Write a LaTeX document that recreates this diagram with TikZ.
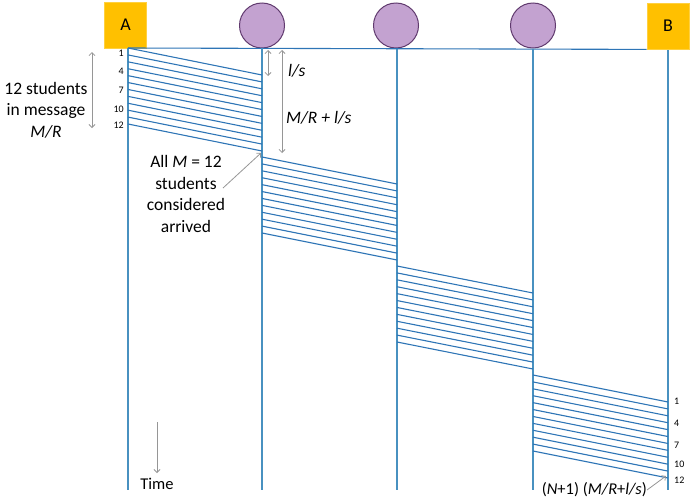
\documentclass[tikz,border=0pt]{standalone}
\usepackage{fontspec}
\setmainfont{Carlito}
\usetikzlibrary{arrows.meta,calc}
\definecolor{lineblue}{RGB}{46,117,182}
\definecolor{vblue}{RGB}{72,145,192}
\definecolor{boxorange}{RGB}{255,192,0}
\definecolor{circfill}{RGB}{195,162,208}
\definecolor{circdraw}{RGB}{96,58,110}
\definecolor{arrgray}{RGB}{150,150,150}
\tikzset{
  endbox/.style={draw=boxorange!75!white, fill=boxorange, line width=0.8pt, minimum width=42pt, minimum height=46pt, inner sep=0pt, font=\fontsize{18}{20}\selectfont},
  relay/.style={circle, draw=circdraw, line width=1pt, fill=circfill, minimum size=45pt, inner sep=0pt},
  timeline/.style={draw=vblue, line width=1.6pt},
  pkt/.style={draw=lineblue, line width=1.1pt},
  garrow/.style={draw=arrgray, line width=0.8pt, -{Straight Barb[length=3pt,width=6pt]}},
  gdarrow/.style={draw=arrgray, line width=0.8pt, {Straight Barb[length=3pt,width=6pt]}-{Straight Barb[length=3pt,width=6pt]}},
  lbl/.style={font=\fontsize{17.5}{21.5}\selectfont, align=center, inner sep=0pt},
  slbl/.style={font=\fontsize{16.5}{20}\selectfont, align=center, inner sep=0pt},
  num/.style={font=\fontsize{10}{11}\selectfont, inner sep=0pt},
}
\begin{document}
\begin{tikzpicture}[x=1pt,y=-1pt]
\useasboundingbox (0,0) rectangle (692,501);
% end nodes and relays
\node[endbox] (A) at (125.5,25) {A};
\node[endbox] (B) at (668,26) {B};
\node[relay] (C1) at (262,25.5) {};
\node[relay] (C2) at (396,25.5) {};
\node[relay] (C3) at (533,25.5) {};
% time lines
\coordinate (tA) at (128,48);  \coordinate (bA) at (128,490);
\coordinate (t1) at (262,48);  \coordinate (b1) at (262,490);
\coordinate (t2) at (397,49);  \coordinate (b2) at (397,490);
\coordinate (t3) at (533,49);  \coordinate (b3) at (533,490);
\coordinate (tB) at (668,50);  \coordinate (bB) at (668,490);
\draw[pkt] (tA) -- (B.south west);
\foreach \t/\b in {tA/bA,t1/b1,t2/b2,t3/b3,tB/bB}
  \draw[timeline] (\t) -- (\b);
% packet hatching: 12 students per hop
\foreach \xl/\xr/\yz in {128/262/48, 262/397/157, 397/533/266, 533/668/375}
  \foreach \i in {0,...,11}
    \draw[pkt] (\xl,{\yz+\i*6.909}) -- (\xr,{\yz+\i*6.909+27});
% left numbers
\foreach \n/\y in {1/53,4/71,7/90,10/109,12/125}
  \node[num, anchor=east] (ln\n) at (124,\y) {\n};
% right numbers
\foreach \n/\y in {1/401,4/423,7/445,10/464,12/480}
  \node[num, anchor=west] (rn\n) at (674,\y) {\n};
% left annotation
\coordinate (m1) at (92,52); \coordinate (m2) at (92,128);
\draw[gdarrow] (m1) -- (m2);
\node[lbl] (stud) at (46,110) {12 students\\in message\\\textit{M/R}};
% propagation annotations
\coordinate (p1) at (268,50); \coordinate (p2) at (268,76);
\draw[gdarrow] (p1) -- (p2);
\node[lbl, anchor=west] (ls) at (288,71) {\textit{l/s}};
\coordinate (q1) at (282,50); \coordinate (q2) at (282,153);
\draw[gdarrow] (q1) -- (q2);
\node[lbl, anchor=west] (mrls) at (286,118) {\textit{M/R + l/s}};
% arrived note
\node[lbl] (arr) at (186,194) {All \textit{M} = 12\\students\\considered\\arrived};
\coordinate (arrtip) at (261,153);
\draw[garrow] (223,188) -- (arrtip);
% time arrow
\coordinate (ti1) at (157,422); \coordinate (ti2) at (157,473);
\draw[garrow] (ti1) -- (ti2);
\node[slbl] (time) at (157,484) {Time};
% total delay
\node[slbl, anchor=east] (tot) at (647,490) {(\textit{N}+1) (\textit{M/R}+\textit{l/s})};
\coordinate (tottip) at (666,476);
\draw[garrow] (tot.east) -- (tottip);
\end{tikzpicture}
\end{document}
